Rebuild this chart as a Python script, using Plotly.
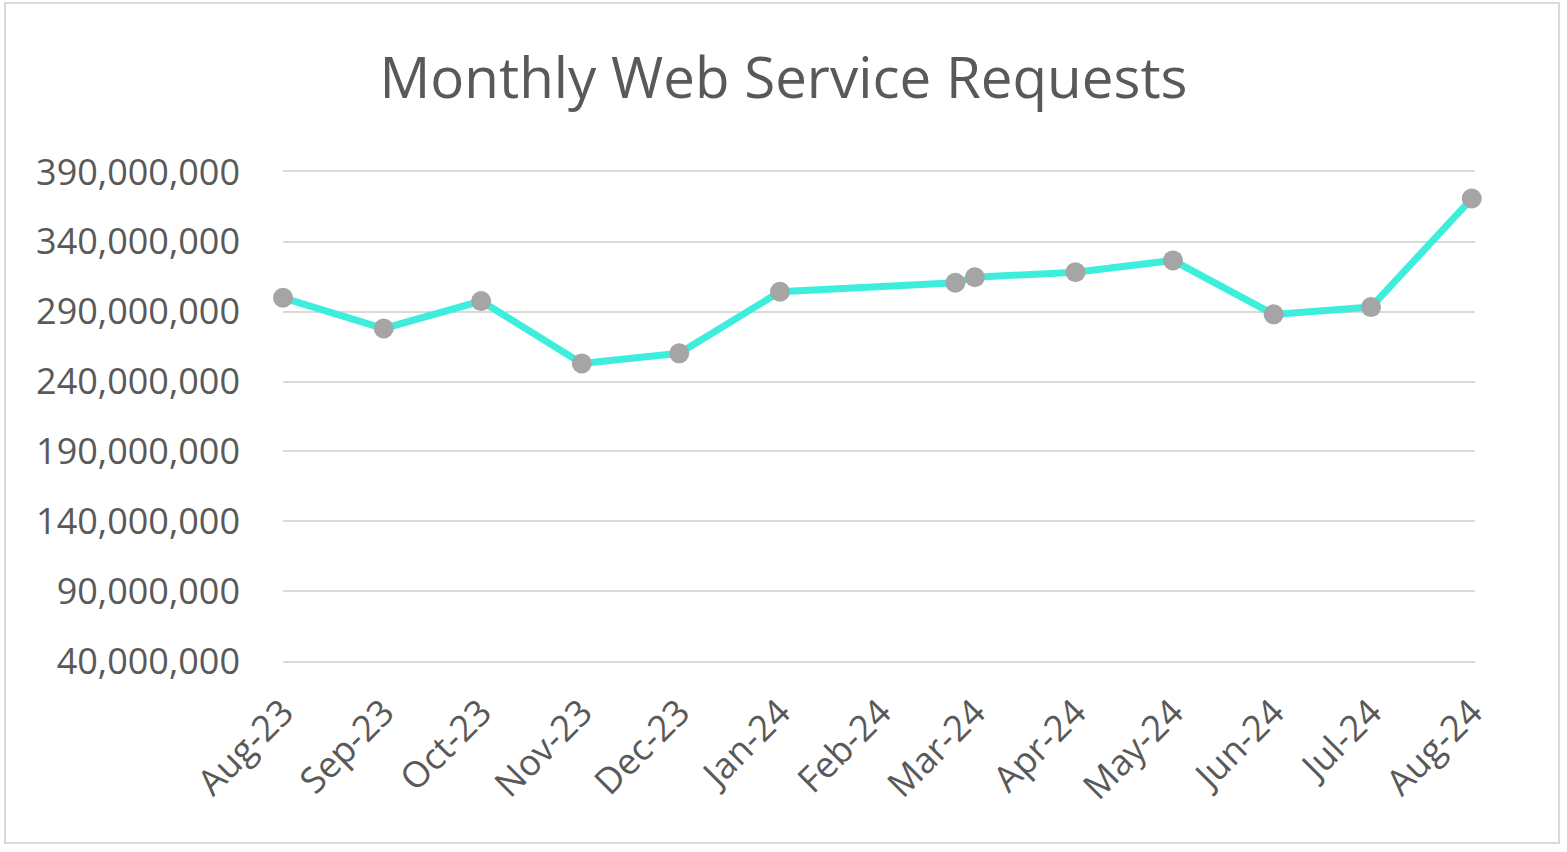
import plotly.graph_objects as go

# ---- data ----
dates = ["2023-08-01", "2023-09-01", "2023-10-01", "2023-11-01", "2023-12-01",
         "2024-01-01", "2024-02-24", "2024-03-01", "2024-04-01", "2024-05-01",
         "2024-06-01", "2024-07-01", "2024-08-01"]
requests = [300_000_000, 278_000_000, 297_600_000, 253_000_000, 260_200_000,
            304_300_000, 310_700_000, 314_700_000, 318_300_000, 326_700_000,
            288_100_000, 293_300_000, 371_000_000]
title_text = "Monthly Web Service Requests"

# ---- layout constants (pixels) ----
W, H = 1567, 852
ML, MR, MT, MB = 283, 92, 172, 191
TXT = "#595959"
GRID = "#D9D9D9"
FONT = "Open Sans"

fig = go.Figure()
fig.add_trace(go.Scatter(
    x=dates, y=requests, mode="lines+markers",
    line=dict(color="#3DEEDD", width=7),
    marker=dict(color="#A5A5A5", size=20, line=dict(width=0)),
    showlegend=False, hoverinfo="x+y", cliponaxis=False,
))

pw = W - ML - MR
ph = H - MT - MB
# chart border rectangle in paper coordinates
bx0, bx1, by0, by1 = 5, 1559, 3, 843
fig.add_shape(type="rect", xref="paper", yref="paper",
              x0=(bx0 - ML) / pw, x1=(bx1 - ML) / pw,
              y0=(H - MB - by1) / ph, y1=(H - MB - by0) / ph,
              line=dict(color=GRID, width=2), fillcolor="rgba(0,0,0,0)", layer="below")

fig.update_layout(
    width=W, height=H,
    margin=dict(l=ML, r=MR, t=MT, b=MB, pad=0),
    paper_bgcolor="white", plot_bgcolor="white",
    font=dict(family=FONT, color=TXT, size=36),
    title=dict(text=title_text, x=0.5, xref="container", xanchor="center",
               y=1 - 78 / H, yref="container", yanchor="middle",
               font=dict(family=FONT, size=56.5, color=TXT)),
    xaxis=dict(
        type="date", range=["2023-08-01", "2024-08-02"],
        tick0="2023-08-01", dtick="M1", tickformat="%b-%y",
        tickangle=-45, showgrid=False, zeroline=False,
        showline=True, mirror=True, linecolor=GRID, linewidth=1.5,
        ticks="", ticklabelstandoff=14,
        tickfont=dict(family=FONT, size=36, color=TXT),
    ),
    yaxis=dict(
        range=[40_000_000, 390_000_000], tick0=40_000_000, dtick=50_000_000,
        tickformat=",d", showgrid=True, gridcolor=GRID, gridwidth=1.5,
        zeroline=False, showline=False, ticks="", ticklabelstandoff=42,
        tickfont=dict(family=FONT, size=36, color=TXT),
    ),
)

fig.write_html("out.html")
